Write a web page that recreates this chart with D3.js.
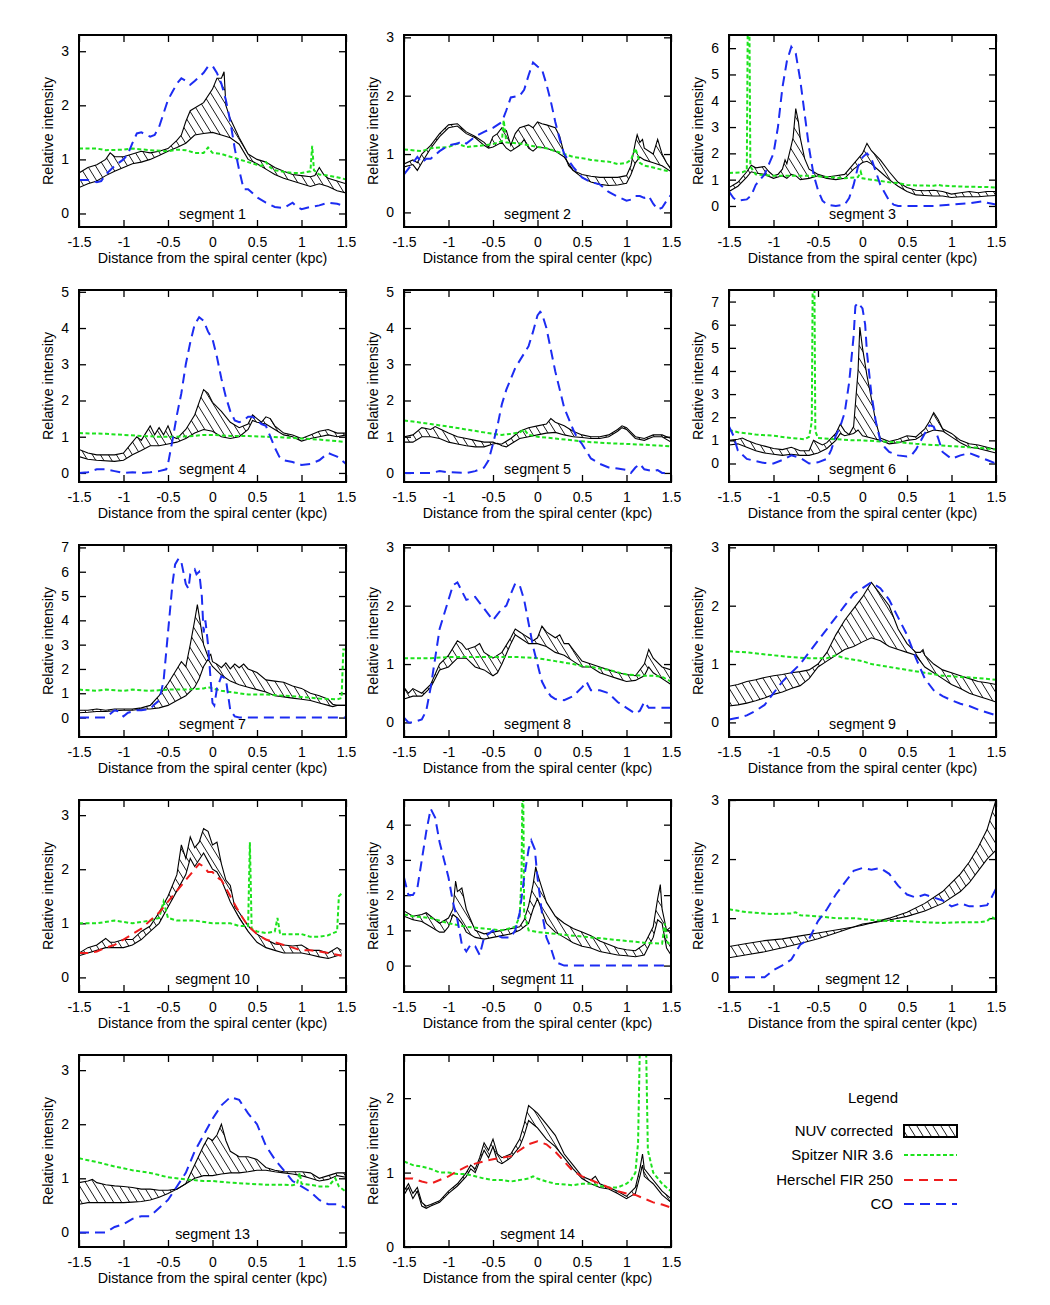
<!DOCTYPE html>
<html>
<head>
<meta charset="utf-8">
<script src="https://cdn.jsdelivr.net/npm/d3@7"></script>
<style>
  body { margin: 0; background: #fff; }
  text { font-family: "Liberation Sans", Arial, Helvetica, sans-serif; fill: #000; }
</style>
</head>
<body>
<div id="chart"></div>
<script>
// ---- data ----
const xTicks = [-1.5, -1, -0.5, 0, 0.5, 1, 1.5];
const segNames = ["segment 1","segment 2","segment 3","segment 4","segment 5","segment 6","segment 7",
                  "segment 8","segment 9","segment 10","segment 11","segment 12","segment 13","segment 14"];
const yDomains = [[-0.25,3.3],[-0.25,3.04],[-0.8,6.5],[-0.25,5.05],[-0.25,5.05],[-0.8,7.5],[-0.8,7.1],
                  [-0.25,3.04],[-0.25,3.04],[-0.27,3.28],[-0.75,4.7],[-0.25,3.0],[-0.27,3.28],[0,2.58]];
const yTickSets = [[0,1,2,3],[0,1,2,3],[0,1,2,3,4,5,6],[0,1,2,3,4,5],[0,1,2,3,4,5],[0,1,2,3,4,5,6,7],
                   [0,1,2,3,4,5,6,7],[0,1,2,3],[0,1,2,3],[0,1,2,3],[0,1,2,3,4],[0,1,2,3],[0,1,2,3],[0,1,2]];
const legendLabels = ["NUV corrected", "Spitzer NIR 3.6", "Herschel FIR 250", "CO"];

// segment 1
const seg1Hi = [[-1.5,0.75],[-1.4,0.85],[-1.3,0.9],[-1.2,1.0],[-1.15,1.12],[-1.1,1.05],[-1.0,1.05],[-0.9,1.1],[-0.8,1.15],[-0.7,1.12],[-0.6,1.15],[-0.5,1.2],[-0.4,1.35],[-0.35,1.45],[-0.3,1.7],[-0.25,1.9],[-0.2,1.95],[-0.1,2.05],[0,2.3],[0.05,2.5],[0.1,2.5],[0.13,2.62],[0.15,2.0],[0.2,1.75],[0.3,1.4],[0.4,1.1],[0.5,1.0],[0.6,0.95],[0.7,0.85],[0.8,0.78],[0.9,0.72],[1.0,0.7],[1.1,0.68],[1.15,0.7],[1.2,0.85],[1.25,0.72],[1.3,0.65],[1.4,0.6],[1.5,0.55]];
const seg1Lo = [[-1.5,0.48],[-1.4,0.55],[-1.3,0.6],[-1.2,0.7],[-1.1,0.78],[-1.0,0.85],[-0.9,0.92],[-0.8,0.95],[-0.7,1.0],[-0.6,1.07],[-0.5,1.15],[-0.4,1.22],[-0.3,1.3],[-0.2,1.45],[-0.1,1.48],[0,1.5],[0.1,1.45],[0.2,1.4],[0.3,1.28],[0.4,1.0],[0.5,0.92],[0.6,0.82],[0.7,0.72],[0.8,0.65],[0.9,0.6],[1.0,0.55],[1.1,0.5],[1.2,0.55],[1.3,0.5],[1.4,0.42],[1.5,0.38]];
const seg1Nir = [[-1.5,1.2],[-1.3,1.2],[-1.2,1.17],[-1.0,1.18],[-0.9,1.2],[-0.7,1.17],[-0.5,1.15],[-0.4,1.18],[-0.3,1.17],[-0.2,1.12],[-0.1,1.12],[-0.05,1.22],[0,1.12],[0.1,1.1],[0.2,1.05],[0.3,1.0],[0.4,0.95],[0.5,0.9],[0.55,0.88],[0.6,0.95],[0.65,0.85],[0.7,0.8],[0.8,0.77],[0.9,0.75],[1.0,0.75],[1.1,0.78],[1.12,1.25],[1.14,0.8],[1.2,0.72],[1.3,0.7],[1.4,0.67],[1.5,0.63]];
const seg1Co = [[-1.5,0.62],[-1.4,0.62],[-1.3,0.58],[-1.25,0.6],[-1.2,0.72],[-1.1,0.88],[-1.0,1.0],[-0.95,1.1],[-0.9,1.3],[-0.85,1.48],[-0.8,1.5],[-0.7,1.42],[-0.65,1.45],[-0.6,1.6],[-0.55,1.85],[-0.5,2.1],[-0.45,2.25],[-0.4,2.4],[-0.35,2.5],[-0.3,2.45],[-0.25,2.38],[-0.2,2.45],[-0.1,2.6],[-0.05,2.72],[0,2.73],[0.05,2.6],[0.1,2.4],[0.15,2.1],[0.2,1.7],[0.25,1.2],[0.3,0.8],[0.35,0.45],[0.4,0.45],[0.5,0.3],[0.6,0.2],[0.7,0.12],[0.8,0.1],[0.9,0.2],[0.95,0.12],[1.0,0.08],[1.1,0.12],[1.2,0.15],[1.3,0.2],[1.4,0.18],[1.5,0.13]];

// segment 2
const seg2Hi = [[-1.5,0.83],[-1.4,0.9],[-1.35,0.85],[-1.3,1.0],[-1.2,1.15],[-1.1,1.35],[-1.0,1.5],[-0.9,1.52],[-0.85,1.45],[-0.8,1.38],[-0.7,1.3],[-0.6,1.2],[-0.55,1.12],[-0.5,1.3],[-0.45,1.35],[-0.4,1.45],[-0.35,1.4],[-0.3,1.15],[-0.25,1.35],[-0.2,1.45],[-0.1,1.5],[-0.05,1.45],[0,1.55],[0.05,1.52],[0.1,1.5],[0.2,1.45],[0.25,1.3],[0.3,1.0],[0.35,0.8],[0.4,0.72],[0.5,0.65],[0.6,0.62],[0.7,0.6],[0.8,0.6],[0.9,0.6],[1.0,0.63],[1.05,0.8],[1.1,1.2],[1.12,1.33],[1.15,1.2],[1.18,1.25],[1.2,1.1],[1.3,1.0],[1.35,1.25],[1.4,1.0],[1.45,0.85],[1.5,0.75]];
const seg2Lo = [[-1.5,0.78],[-1.4,0.82],[-1.35,0.72],[-1.3,0.85],[-1.2,1.1],[-1.1,1.3],[-1.0,1.45],[-0.9,1.48],[-0.8,1.35],[-0.7,1.28],[-0.6,1.15],[-0.55,1.1],[-0.5,1.12],[-0.4,1.2],[-0.35,1.1],[-0.3,1.05],[-0.2,1.15],[-0.15,1.25],[-0.1,1.1],[-0.05,1.05],[0,1.12],[0.1,1.1],[0.2,1.05],[0.3,0.95],[0.4,0.72],[0.5,0.6],[0.6,0.52],[0.7,0.48],[0.8,0.46],[0.9,0.47],[1.0,0.5],[1.05,0.65],[1.1,0.85],[1.15,0.95],[1.2,0.9],[1.3,0.85],[1.4,0.8],[1.5,0.7]];
const seg2Nir = [[-1.5,1.08],[-1.3,1.05],[-1.2,1.1],[-1.0,1.12],[-0.9,1.18],[-0.8,1.12],[-0.6,1.15],[-0.5,1.17],[-0.4,1.22],[-0.38,1.58],[-0.35,1.2],[-0.2,1.18],[-0.1,1.15],[0,1.12],[0.1,1.1],[0.2,1.05],[0.3,1.0],[0.4,0.95],[0.5,0.93],[0.6,0.9],[0.7,0.88],[0.8,0.87],[0.9,0.83],[1.0,0.85],[1.05,0.9],[1.1,1.1],[1.15,0.85],[1.2,0.8],[1.3,0.77],[1.4,0.73],[1.5,0.7]];
const seg2Co = [[-1.5,0.65],[-1.4,0.85],[-1.35,0.95],[-1.3,0.85],[-1.25,0.92],[-1.2,0.92],[-1.1,1.05],[-1.0,1.15],[-0.9,1.18],[-0.85,1.22],[-0.8,1.18],[-0.7,1.3],[-0.6,1.38],[-0.5,1.45],[-0.4,1.55],[-0.35,1.75],[-0.3,1.97],[-0.2,2.0],[-0.15,2.1],[-0.1,2.35],[-0.05,2.57],[0,2.5],[0.05,2.45],[0.1,2.2],[0.15,1.9],[0.2,1.55],[0.25,1.25],[0.3,1.0],[0.4,0.78],[0.5,0.6],[0.6,0.52],[0.7,0.48],[0.8,0.35],[0.9,0.27],[1.0,0.2],[1.05,0.22],[1.1,0.28],[1.15,0.28],[1.2,0.25],[1.25,0.28],[1.3,0.15],[1.35,0.05],[1.4,0.08],[1.45,0.2],[1.5,0.3]];

// segment 3
const seg3Hi = [[-1.5,0.7],[-1.4,0.9],[-1.3,1.3],[-1.25,1.55],[-1.2,1.45],[-1.1,1.5],[-1.05,1.3],[-1.0,1.15],[-0.95,1.2],[-0.9,1.4],[-0.87,1.75],[-0.85,1.6],[-0.8,2.3],[-0.78,2.6],[-0.75,3.7],[-0.72,3.2],[-0.7,2.6],[-0.65,1.8],[-0.6,1.4],[-0.55,1.3],[-0.5,1.2],[-0.4,1.1],[-0.3,1.15],[-0.2,1.2],[-0.1,1.6],[-0.05,1.8],[0,2.0],[0.05,2.38],[0.1,2.1],[0.2,1.75],[0.3,1.3],[0.4,0.9],[0.5,0.7],[0.6,0.6],[0.7,0.58],[0.8,0.6],[0.9,0.55],[1.0,0.45],[1.1,0.5],[1.2,0.55],[1.3,0.5],[1.4,0.55],[1.5,0.55]];
const seg3Lo = [[-1.5,0.55],[-1.4,0.75],[-1.3,1.1],[-1.25,1.3],[-1.2,1.25],[-1.1,1.2],[-1.0,1.05],[-0.95,1.1],[-0.9,1.15],[-0.85,1.05],[-0.8,1.2],[-0.75,1.15],[-0.7,1.0],[-0.6,1.05],[-0.5,1.15],[-0.4,1.05],[-0.3,1.0],[-0.2,1.05],[-0.1,1.4],[0,1.65],[0.05,1.7],[0.1,1.6],[0.2,1.3],[0.3,1.0],[0.4,0.75],[0.5,0.55],[0.6,0.42],[0.7,0.4],[0.8,0.38],[0.9,0.38],[1.0,0.32],[1.1,0.35],[1.2,0.35],[1.3,0.35],[1.4,0.38],[1.5,0.4]];
const seg3Nir = [[-1.5,1.25],[-1.35,1.28],[-1.3,1.35],[-1.29,6.6],[-1.27,6.6],[-1.26,1.5],[-1.2,1.2],[-1.0,1.15],[-0.8,1.15],[-0.6,1.15],[-0.4,1.1],[-0.2,1.05],[-0.05,1.1],[-0.02,1.3],[0,1.05],[0.1,1.0],[0.2,0.95],[0.3,0.9],[0.4,0.87],[0.5,0.8],[0.6,0.78],[0.8,0.77],[0.85,0.8],[0.9,0.77],[1.0,0.75],[1.2,0.73],[1.4,0.72],[1.5,0.7]];
const seg3Co = [[-1.5,0.55],[-1.45,0.3],[-1.4,0.2],[-1.3,0.25],[-1.25,0.4],[-1.2,0.8],[-1.1,1.2],[-1.05,1.6],[-1.0,2.0],[-0.95,3.0],[-0.9,4.5],[-0.85,5.5],[-0.8,6.05],[-0.75,5.8],[-0.7,4.8],[-0.65,3.5],[-0.6,2.2],[-0.55,1.2],[-0.5,0.6],[-0.45,0.2],[-0.4,0.05],[-0.3,0.0],[-0.2,0.05],[-0.15,0.3],[-0.1,0.8],[-0.05,1.5],[0,1.85],[0.05,2.0],[0.1,1.8],[0.15,1.3],[0.2,0.8],[0.3,0.2],[0.35,0.05],[0.4,0.0],[0.6,0.0],[0.8,0.0],[1.0,0.05],[1.2,0.1],[1.35,0.18],[1.4,0.12],[1.5,0.05]];

// segment 4
const seg4Hi = [[-1.5,0.65],[-1.4,0.55],[-1.3,0.5],[-1.1,0.5],[-1.0,0.55],[-0.9,0.85],[-0.85,1.0],[-0.8,0.9],[-0.75,1.1],[-0.7,1.3],[-0.65,1.05],[-0.6,1.25],[-0.55,1.05],[-0.5,1.3],[-0.45,1.0],[-0.4,0.95],[-0.3,1.2],[-0.2,1.6],[-0.1,2.3],[-0.05,2.2],[0,1.95],[0.1,1.7],[0.2,1.4],[0.3,1.25],[0.4,1.35],[0.45,1.6],[0.5,1.5],[0.55,1.4],[0.6,1.55],[0.65,1.5],[0.7,1.3],[0.8,1.1],[0.9,1.05],[1.0,0.95],[1.1,1.05],[1.2,1.15],[1.3,1.2],[1.4,1.1],[1.5,1.1]];
const seg4Lo = [[-1.5,0.45],[-1.4,0.38],[-1.3,0.35],[-1.1,0.32],[-1.0,0.35],[-0.9,0.5],[-0.8,0.62],[-0.7,0.75],[-0.6,0.75],[-0.5,0.8],[-0.4,0.85],[-0.3,0.95],[-0.2,1.1],[-0.1,1.2],[0,1.15],[0.1,1.0],[0.2,0.95],[0.3,1.0],[0.4,1.2],[0.45,1.45],[0.5,1.4],[0.6,1.35],[0.7,1.2],[0.8,1.05],[0.9,1.0],[1.0,0.88],[1.1,0.95],[1.2,1.0],[1.3,1.05],[1.4,1.0],[1.5,1.05]];
const seg4Nir = [[-1.5,1.1],[-1.2,1.08],[-1.0,1.05],[-0.8,1.02],[-0.6,1.0],[-0.4,1.0],[-0.2,1.02],[-0.1,1.05],[0,1.05],[0.2,1.02],[0.4,1.02],[0.6,1.0],[0.8,0.98],[1.0,0.95],[1.2,0.92],[1.4,0.88],[1.5,0.85]];
const seg4Co = [[-1.5,0.0],[-1.4,0.02],[-1.3,0.1],[-1.2,0.1],[-1.1,0.05],[-1.0,0.0],[-0.9,0.02],[-0.8,0.0],[-0.7,0.02],[-0.6,0.05],[-0.52,0.1],[-0.5,0.25],[-0.45,0.9],[-0.4,1.6],[-0.35,2.2],[-0.3,3.0],[-0.25,3.6],[-0.2,4.1],[-0.15,4.3],[-0.1,4.2],[-0.05,3.9],[0,3.7],[0.05,3.2],[0.1,2.6],[0.15,2.1],[0.2,1.7],[0.25,1.45],[0.3,1.4],[0.35,1.45],[0.4,1.55],[0.45,1.55],[0.5,1.45],[0.55,1.35],[0.6,1.3],[0.65,1.0],[0.7,0.7],[0.75,0.45],[0.8,0.35],[0.9,0.3],[1.0,0.22],[1.1,0.25],[1.2,0.35],[1.3,0.55],[1.35,0.5],[1.4,0.45],[1.5,0.25]];

// segment 5
const seg5Hi = [[-1.5,1.0],[-1.4,1.05],[-1.3,1.25],[-1.2,1.2],[-1.15,1.28],[-1.1,1.22],[-1.0,1.1],[-0.9,1.0],[-0.8,0.95],[-0.7,0.9],[-0.6,0.85],[-0.5,0.85],[-0.45,0.8],[-0.4,0.8],[-0.3,0.95],[-0.2,1.15],[-0.1,1.25],[0,1.3],[0.1,1.35],[0.15,1.5],[0.2,1.4],[0.3,1.3],[0.4,1.15],[0.5,1.05],[0.6,1.0],[0.7,1.0],[0.8,1.05],[0.9,1.2],[0.95,1.3],[1.0,1.25],[1.1,1.0],[1.2,0.95],[1.3,1.05],[1.4,1.05],[1.5,0.95]];
const seg5Lo = [[-1.5,0.85],[-1.4,0.85],[-1.3,1.0],[-1.2,1.0],[-1.1,0.95],[-1.0,0.85],[-0.9,0.8],[-0.8,0.75],[-0.7,0.72],[-0.6,0.72],[-0.5,0.8],[-0.45,0.82],[-0.4,0.75],[-0.35,0.72],[-0.3,0.8],[-0.2,0.95],[-0.1,1.0],[0,1.05],[0.1,1.1],[0.2,1.12],[0.3,1.05],[0.4,1.0],[0.5,0.98],[0.6,0.95],[0.7,0.95],[0.8,1.0],[0.9,1.15],[0.95,1.25],[1.0,1.2],[1.1,0.95],[1.2,0.9],[1.3,1.0],[1.4,1.0],[1.5,0.85]];
const seg5Nir = [[-1.5,1.45],[-1.4,1.42],[-1.2,1.35],[-1.0,1.28],[-0.8,1.2],[-0.6,1.12],[-0.5,1.08],[-0.4,1.05],[-0.3,1.08],[-0.2,1.12],[-0.15,1.2],[-0.1,1.05],[0,1.0],[0.2,0.95],[0.4,0.9],[0.6,0.85],[0.8,0.82],[1.0,0.8],[1.2,0.78],[1.4,0.75],[1.5,0.73]];
const seg5Co = [[-1.5,0.0],[-1.2,0.0],[-1.1,0.05],[-1.0,0.02],[-0.8,0.0],[-0.7,0.05],[-0.6,0.15],[-0.55,0.35],[-0.5,0.8],[-0.45,1.3],[-0.4,1.9],[-0.35,2.3],[-0.3,2.6],[-0.25,2.9],[-0.2,3.1],[-0.15,3.3],[-0.1,3.5],[-0.05,3.9],[0,4.35],[0.03,4.45],[0.05,4.4],[0.1,4.0],[0.15,3.4],[0.2,2.8],[0.25,2.3],[0.3,1.8],[0.35,1.5],[0.4,1.2],[0.45,0.95],[0.5,0.8],[0.55,0.6],[0.6,0.4],[0.7,0.25],[0.8,0.15],[0.9,0.12],[1.0,0.08],[1.05,0.0],[1.1,0.15],[1.15,0.25],[1.2,0.1],[1.3,0.05],[1.35,0.08],[1.4,0.0],[1.5,0.0]];

// segment 6
const seg6Hi = [[-1.5,1.0],[-1.4,1.05],[-1.35,1.1],[-1.3,1.0],[-1.2,0.85],[-1.1,0.75],[-1.0,0.65],[-0.9,0.6],[-0.8,0.7],[-0.7,0.55],[-0.6,0.55],[-0.55,1.0],[-0.5,0.9],[-0.45,0.8],[-0.4,0.9],[-0.3,1.3],[-0.25,1.7],[-0.2,1.4],[-0.15,1.25],[-0.1,1.6],[-0.05,4.0],[-0.03,5.9],[0,5.0],[0.05,3.8],[0.1,2.8],[0.15,1.8],[0.2,1.1],[0.3,0.95],[0.4,1.05],[0.5,1.2],[0.6,1.15],[0.7,1.5],[0.75,1.8],[0.8,2.2],[0.85,1.9],[0.9,1.5],[1.0,1.3],[1.1,1.0],[1.2,0.85],[1.3,0.8],[1.4,0.7],[1.5,0.6]];
const seg6Lo = [[-1.5,0.8],[-1.4,0.85],[-1.3,0.7],[-1.2,0.55],[-1.1,0.45],[-1.0,0.4],[-0.9,0.35],[-0.8,0.4],[-0.7,0.35],[-0.6,0.35],[-0.5,0.45],[-0.4,0.65],[-0.3,1.0],[-0.25,1.3],[-0.2,1.2],[-0.1,1.3],[-0.05,1.45],[0,1.2],[0.1,1.1],[0.2,1.0],[0.3,0.85],[0.4,0.9],[0.5,1.0],[0.6,1.05],[0.7,1.3],[0.8,1.45],[0.9,1.4],[1.0,1.15],[1.1,0.9],[1.2,0.7],[1.3,0.65],[1.4,0.55],[1.5,0.45]];
const seg6Nir = [[-1.5,1.45],[-1.4,1.35],[-1.2,1.25],[-1.0,1.2],[-0.8,1.1],[-0.65,1.05],[-0.6,1.15],[-0.57,1.8],[-0.56,7.6],[-0.54,7.6],[-0.53,1.4],[-0.5,1.1],[-0.3,1.05],[-0.1,1.0],[0,1.0],[0.2,0.95],[0.4,0.92],[0.6,0.85],[0.8,0.8],[1.0,0.75],[1.2,0.7],[1.4,0.65],[1.5,0.6]];
const seg6Co = [[-1.5,1.6],[-1.45,1.2],[-1.4,0.55],[-1.3,0.2],[-1.2,0.1],[-1.1,0.02],[-1.0,0.0],[-0.9,0.15],[-0.8,0.35],[-0.7,0.25],[-0.6,0.0],[-0.5,0.05],[-0.4,0.2],[-0.35,0.6],[-0.3,1.2],[-0.25,1.6],[-0.2,2.2],[-0.15,3.5],[-0.1,5.5],[-0.08,6.8],[-0.05,6.95],[0,6.7],[0.03,6.0],[0.05,4.8],[0.1,3.0],[0.15,1.8],[0.2,1.0],[0.25,0.7],[0.3,0.5],[0.4,0.35],[0.5,0.3],[0.55,0.35],[0.6,0.6],[0.7,1.3],[0.75,1.65],[0.8,1.6],[0.85,1.1],[0.9,0.5],[1.0,0.2],[1.1,0.35],[1.2,0.45],[1.3,0.3],[1.4,0.15],[1.5,0.0]];

// segment 7
const seg7Hi = [[-1.5,0.3],[-1.4,0.3],[-1.3,0.35],[-1.2,0.3],[-1.1,0.35],[-1.0,0.35],[-0.9,0.35],[-0.8,0.4],[-0.7,0.5],[-0.6,0.9],[-0.5,1.4],[-0.45,1.7],[-0.4,2.0],[-0.35,2.3],[-0.3,2.1],[-0.25,3.0],[-0.2,4.0],[-0.17,4.65],[-0.12,3.5],[-0.1,3.0],[-0.05,2.5],[-0.02,2.6],[0,2.3],[0.05,2.2],[0.1,2.05],[0.15,2.25],[0.2,2.0],[0.25,2.2],[0.3,2.05],[0.35,2.2],[0.4,2.0],[0.5,1.85],[0.6,1.55],[0.7,1.5],[0.8,1.45],[0.9,1.3],[1.0,1.2],[1.1,1.0],[1.2,0.9],[1.3,0.75],[1.35,0.55],[1.4,0.5],[1.5,0.5]];
const seg7Lo = [[-1.5,0.2],[-1.4,0.22],[-1.3,0.25],[-1.2,0.25],[-1.1,0.28],[-1.0,0.3],[-0.9,0.3],[-0.8,0.35],[-0.7,0.35],[-0.6,0.4],[-0.5,0.5],[-0.4,0.7],[-0.3,0.9],[-0.2,1.25],[-0.15,1.6],[-0.1,2.1],[-0.05,2.4],[0,2.1],[0.1,1.75],[0.2,1.5],[0.3,1.35],[0.4,1.25],[0.5,1.15],[0.6,1.05],[0.7,0.9],[0.8,0.85],[0.9,0.8],[1.0,0.75],[1.1,0.7],[1.2,0.6],[1.3,0.5],[1.35,0.45],[1.4,0.5],[1.5,0.5]];
const seg7Nir = [[-1.5,1.15],[-1.3,1.1],[-1.2,1.15],[-1.0,1.1],[-0.9,1.15],[-0.7,1.1],[-0.5,1.15],[-0.3,1.15],[-0.1,1.2],[-0.05,1.25],[0,1.2],[0.1,1.1],[0.2,1.05],[0.4,0.95],[0.6,0.95],[0.8,0.9],[1.0,0.85],[1.2,0.78],[1.4,0.75],[1.45,0.8],[1.47,2.8],[1.5,2.8]];
const seg7Co = [[-1.5,0.0],[-1.2,0.0],[-1.15,0.15],[-1.1,0.3],[-1.05,0.25],[-1.0,0.05],[-0.95,0.2],[-0.9,0.25],[-0.85,0.3],[-0.8,0.3],[-0.7,0.35],[-0.65,0.55],[-0.6,0.7],[-0.55,1.5],[-0.5,3.5],[-0.45,5.5],[-0.42,6.3],[-0.38,6.55],[-0.35,6.4],[-0.3,5.5],[-0.27,5.3],[-0.25,5.9],[-0.2,6.1],[-0.18,5.9],[-0.15,6.0],[-0.12,5.0],[-0.1,3.5],[-0.08,4.0],[-0.05,3.0],[-0.02,1.5],[0,0.6],[0.02,0.5],[0.05,1.2],[0.08,1.5],[0.1,1.7],[0.15,1.6],[0.18,0.8],[0.2,0.3],[0.25,0.05],[0.3,0.0],[1.5,0.0]];

// segment 8
const seg8Hi = [[-1.5,0.6],[-1.45,0.5],[-1.4,0.58],[-1.3,0.5],[-1.2,0.65],[-1.1,1.0],[-1.0,1.15],[-0.9,1.4],[-0.85,1.35],[-0.8,1.25],[-0.7,1.3],[-0.65,1.35],[-0.6,1.2],[-0.5,1.1],[-0.4,1.2],[-0.3,1.45],[-0.25,1.6],[-0.2,1.55],[-0.15,1.5],[-0.1,1.45],[-0.05,1.4],[0,1.45],[0.05,1.65],[0.1,1.55],[0.2,1.45],[0.25,1.5],[0.3,1.35],[0.35,1.35],[0.4,1.25],[0.5,1.05],[0.6,1.0],[0.7,0.95],[0.8,0.9],[0.9,0.85],[1.0,0.82],[1.1,0.8],[1.2,1.0],[1.25,1.25],[1.3,1.1],[1.4,0.95],[1.5,0.9]];
const seg8Lo = [[-1.5,0.4],[-1.4,0.45],[-1.3,0.45],[-1.2,0.6],[-1.1,0.9],[-1.0,0.95],[-0.9,1.1],[-0.8,1.1],[-0.7,0.95],[-0.6,0.9],[-0.5,0.8],[-0.45,0.85],[-0.4,1.0],[-0.3,1.35],[-0.25,1.5],[-0.2,1.45],[-0.1,1.35],[0,1.35],[0.1,1.3],[0.2,1.2],[0.3,1.15],[0.4,1.05],[0.5,0.95],[0.6,0.95],[0.7,0.85],[0.8,0.8],[0.9,0.75],[1.0,0.7],[1.1,0.72],[1.2,0.8],[1.25,0.95],[1.3,0.85],[1.4,0.75],[1.5,0.65]];
const seg8Nir = [[-1.5,1.1],[-1.2,1.1],[-1.0,1.12],[-0.8,1.12],[-0.6,1.12],[-0.4,1.12],[-0.2,1.12],[0,1.1],[0.2,1.05],[0.4,1.0],[0.5,0.97],[0.6,0.95],[0.8,0.9],[1.0,0.82],[1.2,0.8],[1.3,0.8],[1.4,0.78],[1.5,0.7]];
const seg8Co = [[-1.5,0.08],[-1.45,0.0],[-1.4,0.0],[-1.3,0.05],[-1.25,0.2],[-1.2,0.6],[-1.15,1.1],[-1.1,1.6],[-1.0,2.1],[-0.95,2.35],[-0.9,2.4],[-0.85,2.25],[-0.8,2.1],[-0.7,2.15],[-0.65,2.05],[-0.6,1.95],[-0.5,1.75],[-0.45,1.85],[-0.4,1.95],[-0.35,2.0],[-0.3,2.2],[-0.25,2.38],[-0.2,2.35],[-0.15,2.1],[-0.1,1.7],[-0.05,1.3],[0,1.0],[0.05,0.7],[0.1,0.55],[0.15,0.45],[0.2,0.4],[0.3,0.38],[0.4,0.45],[0.5,0.6],[0.55,0.7],[0.6,0.55],[0.7,0.55],[0.8,0.5],[0.9,0.35],[1.0,0.25],[1.1,0.15],[1.15,0.2],[1.2,0.35],[1.25,0.25],[1.3,0.25],[1.4,0.25],[1.5,0.25]];

// segment 9
const seg9Hi = [[-1.5,0.62],[-1.4,0.65],[-1.3,0.7],[-1.2,0.73],[-1.1,0.77],[-1.0,0.8],[-0.9,0.82],[-0.8,0.85],[-0.7,0.87],[-0.6,0.9],[-0.5,1.0],[-0.4,1.2],[-0.3,1.5],[-0.2,1.75],[-0.1,1.95],[0,2.15],[0.1,2.4],[0.2,2.2],[0.3,2.0],[0.4,1.6],[0.5,1.35],[0.6,1.2],[0.65,1.2],[0.68,1.25],[0.7,1.15],[0.8,1.0],[0.9,0.9],[1.0,0.85],[1.1,0.8],[1.2,0.75],[1.3,0.7],[1.4,0.68],[1.5,0.65]];
const seg9Lo = [[-1.5,0.28],[-1.4,0.3],[-1.3,0.33],[-1.2,0.37],[-1.1,0.42],[-1.0,0.48],[-0.9,0.52],[-0.8,0.58],[-0.7,0.63],[-0.6,0.75],[-0.5,0.95],[-0.4,1.05],[-0.3,1.15],[-0.2,1.25],[-0.1,1.3],[0,1.38],[0.1,1.45],[0.2,1.4],[0.3,1.3],[0.4,1.25],[0.5,1.2],[0.6,1.15],[0.65,1.05],[0.7,0.95],[0.8,0.85],[0.9,0.75],[1.0,0.65],[1.1,0.58],[1.2,0.5],[1.3,0.45],[1.4,0.4],[1.5,0.35]];
const seg9Nir = [[-1.5,1.22],[-1.3,1.2],[-1.0,1.15],[-0.8,1.12],[-0.6,1.1],[-0.4,1.1],[-0.3,1.15],[-0.2,1.1],[0,1.05],[0.1,1.0],[0.3,0.95],[0.5,0.9],[0.7,0.85],[0.9,0.8],[1.1,0.78],[1.3,0.76],[1.5,0.73]];
const seg9Co = [[-1.5,0.05],[-1.4,0.08],[-1.3,0.12],[-1.2,0.2],[-1.1,0.3],[-1.0,0.5],[-0.9,0.7],[-0.8,0.85],[-0.7,1.0],[-0.6,1.2],[-0.5,1.4],[-0.4,1.6],[-0.3,1.8],[-0.2,2.0],[-0.1,2.2],[0,2.3],[0.1,2.4],[0.2,2.3],[0.3,2.1],[0.4,1.8],[0.5,1.5],[0.6,1.1],[0.7,0.75],[0.8,0.55],[0.9,0.45],[1.0,0.38],[1.1,0.32],[1.2,0.28],[1.3,0.22],[1.4,0.17],[1.5,0.12]];

// segment 10 (FIR instead of CO)
const seg10Hi = [[-1.5,0.45],[-1.4,0.55],[-1.3,0.6],[-1.2,0.72],[-1.15,0.65],[-1.1,0.65],[-1.0,0.7],[-0.9,0.7],[-0.8,0.85],[-0.7,0.95],[-0.6,1.2],[-0.5,1.5],[-0.4,1.9],[-0.35,2.45],[-0.3,2.2],[-0.25,2.6],[-0.2,2.4],[-0.15,2.5],[-0.1,2.75],[-0.05,2.7],[0,2.45],[0.05,2.5],[0.1,2.1],[0.15,1.8],[0.2,1.7],[0.25,1.3],[0.3,1.2],[0.4,0.95],[0.5,0.8],[0.6,0.7],[0.7,0.62],[0.8,0.6],[0.9,0.58],[1.0,0.6],[1.1,0.5],[1.2,0.5],[1.3,0.45],[1.4,0.55],[1.45,0.5]];
const seg10Lo = [[-1.5,0.4],[-1.4,0.45],[-1.3,0.5],[-1.2,0.55],[-1.1,0.55],[-1.0,0.55],[-0.9,0.6],[-0.8,0.7],[-0.7,0.85],[-0.6,1.0],[-0.5,1.3],[-0.4,1.6],[-0.3,1.9],[-0.25,2.2],[-0.2,2.05],[-0.1,2.3],[-0.05,2.15],[0,2.0],[0.05,1.95],[0.1,1.8],[0.2,1.4],[0.3,1.1],[0.4,0.85],[0.5,0.65],[0.6,0.55],[0.7,0.5],[0.8,0.45],[0.9,0.45],[1.0,0.45],[1.1,0.42],[1.2,0.38],[1.3,0.35],[1.4,0.4],[1.45,0.42]];
const seg10Nir = [[-1.5,1.0],[-1.3,1.0],[-1.1,1.05],[-0.9,1.0],[-0.7,1.05],[-0.6,1.1],[-0.55,1.4],[-0.5,1.1],[-0.4,1.05],[-0.2,1.05],[0,1.0],[0.2,1.0],[0.3,0.95],[0.4,0.95],[0.42,2.5],[0.44,0.9],[0.5,0.85],[0.6,0.82],[0.7,0.85],[0.73,1.1],[0.76,0.8],[0.9,0.8],[1.0,0.8],[1.1,0.75],[1.2,0.75],[1.3,0.78],[1.4,0.85],[1.42,1.5],[1.45,1.55]];
const seg10Fir = [[-1.5,0.45],[-1.4,0.45],[-1.3,0.48],[-1.2,0.55],[-1.1,0.6],[-1.0,0.7],[-0.9,0.8],[-0.8,0.9],[-0.7,1.05],[-0.6,1.2],[-0.5,1.4],[-0.4,1.6],[-0.3,1.8],[-0.2,2.0],[-0.15,2.1],[-0.1,2.05],[-0.05,1.95],[0,1.95],[0.05,1.85],[0.1,1.8],[0.2,1.5],[0.3,1.2],[0.4,0.95],[0.5,0.8],[0.6,0.7],[0.7,0.65],[0.8,0.6],[0.9,0.55],[1.0,0.5],[1.1,0.5],[1.2,0.48],[1.3,0.45],[1.4,0.42],[1.45,0.4]];

// segment 11
const seg11Hi = [[-1.5,1.55],[-1.4,1.4],[-1.3,1.45],[-1.25,1.5],[-1.2,1.4],[-1.1,1.2],[-1.0,1.35],[-0.95,1.6],[-0.92,2.4],[-0.9,2.1],[-0.85,2.2],[-0.8,1.6],[-0.7,1.0],[-0.6,0.9],[-0.5,0.95],[-0.4,1.0],[-0.3,1.05],[-0.2,1.1],[-0.15,1.3],[-0.1,1.7],[-0.05,2.3],[-0.02,2.8],[0,2.6],[0.05,2.2],[0.1,1.8],[0.2,1.4],[0.3,1.2],[0.4,1.05],[0.5,0.95],[0.6,0.85],[0.7,0.7],[0.8,0.6],[0.9,0.5],[1.0,0.45],[1.1,0.42],[1.2,0.6],[1.3,1.1],[1.35,1.9],[1.38,2.3],[1.4,1.6],[1.45,1.0],[1.5,1.1]];
const seg11Lo = [[-1.5,1.4],[-1.4,1.3],[-1.3,1.25],[-1.2,1.1],[-1.1,0.95],[-1.05,0.95],[-1.0,1.1],[-0.95,1.45],[-0.9,1.35],[-0.85,1.2],[-0.8,0.95],[-0.7,0.8],[-0.6,0.75],[-0.5,0.8],[-0.4,0.85],[-0.3,0.9],[-0.2,1.0],[-0.1,1.2],[-0.05,1.6],[0,1.9],[0.05,1.55],[0.1,1.2],[0.2,0.95],[0.3,0.8],[0.4,0.65],[0.5,0.55],[0.6,0.5],[0.7,0.4],[0.8,0.35],[0.9,0.3],[1.0,0.28],[1.1,0.25],[1.2,0.3],[1.3,0.8],[1.35,1.3],[1.4,1.2],[1.45,0.5],[1.5,0.3]];
const seg11Nir = [[-1.5,1.45],[-1.4,1.4],[-1.2,1.35],[-1.0,1.2],[-0.8,1.1],[-0.6,1.05],[-0.4,1.0],[-0.25,1.1],[-0.2,1.4],[-0.18,2.5],[-0.17,4.8],[-0.16,4.8],[-0.15,1.5],[-0.1,1.0],[0,0.95],[0.2,0.9],[0.4,0.85],[0.6,0.8],[0.8,0.75],[1.0,0.7],[1.2,0.65],[1.4,0.62],[1.43,1.2],[1.46,0.65],[1.5,0.6]];
const seg11Co = [[-1.5,2.5],[-1.45,2.0],[-1.4,2.0],[-1.35,2.2],[-1.3,3.0],[-1.25,3.8],[-1.2,4.45],[-1.15,4.2],[-1.1,3.5],[-1.05,3.0],[-1.0,2.5],[-0.95,1.8],[-0.9,1.3],[-0.85,0.6],[-0.8,0.4],[-0.75,0.6],[-0.7,0.55],[-0.65,0.3],[-0.6,0.8],[-0.5,1.0],[-0.45,0.85],[-0.4,0.8],[-0.3,0.8],[-0.25,1.0],[-0.2,1.5],[-0.15,2.5],[-0.1,3.3],[-0.07,3.55],[-0.03,3.3],[0,2.5],[0.05,1.5],[0.1,0.8],[0.15,0.5],[0.2,0.1],[0.3,0.0],[1.5,0.0]];

// segment 12
const seg12Hi = [[-1.5,0.52],[-1.3,0.57],[-1.1,0.62],[-0.9,0.65],[-0.7,0.7],[-0.5,0.75],[-0.3,0.8],[-0.1,0.85],[0,0.88],[0.1,0.92],[0.3,1.0],[0.5,1.1],[0.7,1.25],[0.9,1.45],[1.1,1.75],[1.2,1.95],[1.3,2.2],[1.4,2.5],[1.5,3.0]];
const seg12Lo = [[-1.5,0.33],[-1.3,0.38],[-1.1,0.43],[-0.9,0.5],[-0.7,0.57],[-0.5,0.65],[-0.3,0.75],[-0.1,0.85],[0,0.9],[0.1,0.92],[0.3,0.97],[0.5,1.03],[0.7,1.12],[0.9,1.25],[1.1,1.45],[1.2,1.6],[1.3,1.8],[1.4,2.0],[1.5,2.15]];
const seg12Nir = [[-1.5,1.15],[-1.3,1.1],[-1.0,1.07],[-0.8,1.08],[-0.75,1.1],[-0.7,1.05],[-0.5,1.03],[-0.3,1.0],[-0.1,1.0],[0.1,0.97],[0.3,0.95],[0.5,0.95],[0.7,0.93],[0.9,0.92],[1.1,0.93],[1.3,0.93],[1.4,0.95],[1.45,1.02],[1.5,0.98]];
const seg12Co = [[-1.5,0.0],[-1.3,0.0],[-1.1,0.0],[-1.0,0.12],[-0.9,0.2],[-0.8,0.3],[-0.7,0.55],[-0.6,0.65],[-0.5,0.95],[-0.4,1.15],[-0.3,1.4],[-0.2,1.6],[-0.1,1.8],[0,1.85],[0.1,1.82],[0.2,1.85],[0.3,1.75],[0.4,1.55],[0.5,1.4],[0.6,1.35],[0.7,1.4],[0.8,1.35],[0.9,1.3],[1.0,1.2],[1.1,1.25],[1.2,1.2],[1.3,1.2],[1.4,1.22],[1.45,1.35],[1.5,1.5]];

// segment 13
const seg13Hi = [[-1.5,0.92],[-1.4,0.95],[-1.35,0.98],[-1.3,0.92],[-1.2,0.88],[-1.1,0.86],[-1.0,0.85],[-0.9,0.83],[-0.8,0.8],[-0.7,0.8],[-0.6,0.78],[-0.5,0.78],[-0.4,0.8],[-0.3,0.9],[-0.2,1.25],[-0.1,1.6],[-0.05,1.75],[0,1.7],[0.05,1.8],[0.1,2.0],[0.15,1.7],[0.2,1.5],[0.3,1.4],[0.4,1.4],[0.5,1.35],[0.6,1.2],[0.7,1.15],[0.8,1.12],[0.9,1.12],[1.0,1.12],[1.1,1.1],[1.2,1.0],[1.3,1.05],[1.4,1.1],[1.5,1.1]];
const seg13Lo = [[-1.5,0.52],[-1.4,0.55],[-1.3,0.55],[-1.2,0.55],[-1.1,0.55],[-1.0,0.55],[-0.9,0.56],[-0.8,0.57],[-0.7,0.6],[-0.6,0.65],[-0.5,0.72],[-0.4,0.8],[-0.3,0.9],[-0.2,1.0],[-0.1,1.05],[0,1.05],[0.1,1.08],[0.2,1.1],[0.3,1.1],[0.4,1.12],[0.5,1.15],[0.6,1.15],[0.7,1.12],[0.8,1.1],[0.9,1.08],[1.0,1.05],[1.1,1.0],[1.2,0.95],[1.3,0.98],[1.4,1.05],[1.5,1.02]];
const seg13Nir = [[-1.5,1.37],[-1.3,1.3],[-1.1,1.22],[-0.9,1.15],[-0.7,1.1],[-0.5,1.02],[-0.3,0.98],[-0.1,0.95],[0,0.95],[0.2,0.92],[0.4,0.9],[0.6,0.88],[0.8,0.88],[0.9,0.87],[0.95,0.9],[0.98,1.1],[1.0,0.9],[1.1,0.88],[1.2,0.85],[1.3,0.85],[1.38,1.0],[1.42,0.85],[1.5,0.75]];
const seg13Co = [[-1.5,0.0],[-1.3,0.0],[-1.2,0.0],[-1.1,0.1],[-1.0,0.15],[-0.9,0.25],[-0.8,0.3],[-0.7,0.3],[-0.6,0.45],[-0.5,0.6],[-0.4,0.85],[-0.3,1.1],[-0.2,1.5],[-0.1,1.8],[0,2.1],[0.1,2.35],[0.2,2.5],[0.3,2.45],[0.4,2.2],[0.5,2.0],[0.6,1.6],[0.7,1.35],[0.8,1.15],[0.9,0.95],[1.0,0.85],[1.1,0.75],[1.2,0.6],[1.3,0.52],[1.4,0.52],[1.5,0.45]];

// segment 14 (FIR instead of CO)
const seg14Hi = [[-1.5,0.75],[-1.45,0.85],[-1.4,0.72],[-1.35,0.8],[-1.3,0.6],[-1.25,0.55],[-1.2,0.57],[-1.1,0.62],[-1.0,0.75],[-0.9,0.85],[-0.8,1.0],[-0.75,1.1],[-0.7,1.05],[-0.65,1.2],[-0.6,1.4],[-0.55,1.3],[-0.5,1.45],[-0.45,1.25],[-0.4,1.2],[-0.3,1.25],[-0.2,1.45],[-0.15,1.65],[-0.1,1.9],[-0.05,1.85],[0,1.8],[0.1,1.65],[0.2,1.5],[0.3,1.25],[0.4,1.1],[0.5,0.95],[0.6,0.9],[0.65,0.95],[0.7,0.85],[0.8,0.8],[0.9,0.75],[1.0,0.68],[1.1,0.8],[1.15,1.05],[1.18,1.25],[1.2,1.05],[1.3,0.9],[1.4,0.75],[1.5,0.65]];
const seg14Lo = [[-1.5,0.7],[-1.45,0.8],[-1.4,0.65],[-1.35,0.75],[-1.3,0.55],[-1.25,0.52],[-1.2,0.55],[-1.1,0.6],[-1.0,0.72],[-0.9,0.82],[-0.8,0.95],[-0.75,1.05],[-0.7,1.0],[-0.65,1.15],[-0.6,1.3],[-0.55,1.2],[-0.5,1.35],[-0.45,1.15],[-0.4,1.12],[-0.3,1.2],[-0.2,1.35],[-0.15,1.5],[-0.1,1.7],[-0.05,1.65],[0,1.6],[0.1,1.45],[0.2,1.35],[0.3,1.2],[0.4,1.05],[0.5,0.92],[0.6,0.85],[0.7,0.8],[0.8,0.78],[0.9,0.72],[1.0,0.65],[1.1,0.72],[1.15,0.95],[1.18,1.1],[1.2,0.95],[1.3,0.85],[1.4,0.7],[1.5,0.6]];
const seg14Nir = [[-1.5,1.15],[-1.4,1.1],[-1.3,1.08],[-1.2,1.05],[-1.1,1.0],[-1.0,1.0],[-0.9,0.98],[-0.8,0.98],[-0.7,0.95],[-0.6,0.92],[-0.5,0.9],[-0.4,0.9],[-0.3,0.88],[-0.2,0.9],[-0.1,0.92],[-0.05,0.95],[0,0.92],[0.1,0.88],[0.2,0.85],[0.4,0.83],[0.5,0.85],[0.6,0.85],[0.7,0.82],[0.8,0.8],[0.9,0.8],[1.0,0.85],[1.05,0.9],[1.1,1.0],[1.13,1.4],[1.15,2.7],[1.22,2.7],[1.24,1.3],[1.3,1.0],[1.4,0.85],[1.5,0.75]];
const seg14Fir = [[-1.5,0.92],[-1.4,0.92],[-1.3,0.88],[-1.2,0.85],[-1.1,0.9],[-1.0,0.95],[-0.9,1.02],[-0.8,1.08],[-0.7,1.12],[-0.6,1.15],[-0.5,1.18],[-0.4,1.2],[-0.3,1.22],[-0.2,1.3],[-0.1,1.38],[0,1.42],[0.1,1.38],[0.2,1.28],[0.3,1.15],[0.4,1.02],[0.5,0.95],[0.6,0.9],[0.7,0.85],[0.8,0.8],[0.9,0.75],[1.0,0.72],[1.1,0.7],[1.2,0.65],[1.3,0.6],[1.4,0.57],[1.5,0.53]];

const nuvHi  = [seg1Hi, seg2Hi, seg3Hi, seg4Hi, seg5Hi, seg6Hi, seg7Hi, seg8Hi, seg9Hi, seg10Hi, seg11Hi, seg12Hi, seg13Hi, seg14Hi];
const nuvLo  = [seg1Lo, seg2Lo, seg3Lo, seg4Lo, seg5Lo, seg6Lo, seg7Lo, seg8Lo, seg9Lo, seg10Lo, seg11Lo, seg12Lo, seg13Lo, seg14Lo];
const nirSet = [seg1Nir, seg2Nir, seg3Nir, seg4Nir, seg5Nir, seg6Nir, seg7Nir, seg8Nir, seg9Nir, seg10Nir, seg11Nir, seg12Nir, seg13Nir, seg14Nir];
const firSet = [null, null, null, null, null, null, null, null, null, seg10Fir, null, null, null, seg14Fir];
const coSet  = [seg1Co, seg2Co, seg3Co, seg4Co, seg5Co, seg6Co, seg7Co, seg8Co, seg9Co, null, seg11Co, seg12Co, seg13Co, null];

// ---- layout ----
const colLeft = [79, 404, 729];
const rowTop = [35, 290, 545, 800, 1055];
const W = 267, H = 192;
const green = "#1de21d", red = "#ee1c1c", blue = "#1c2cf2";
const fontFam = '"Liberation Sans", Arial, Helvetica, sans-serif';

const svg = d3.select('#chart').append('svg')
    .attr('width', 1050)
    .attr('height', 1305);

// hatch pattern for NUV band
const defs = svg.append('defs');
defs.append('pattern')
    .attr('id', 'hatch')
    .attr('patternUnits', 'userSpaceOnUse')
    .attr('width', 8)
    .attr('height', 13)
    .append('path')
    .attr('d', 'M0,0L8,13M-1,11.4L1,14.6M7,-1.6L9,1.6')
    .attr('stroke', '#000')
    .attr('stroke-width', 0.9);

const x = d3.scaleLinear().domain([-1.5, 1.5]).range([0, W]);
const fmt = d => String(d);

segNames.forEach(function (name, i) {
    const g = svg.append('g')
        .attr('transform', 'translate(' + colLeft[i % 3] + ',' + rowTop[Math.floor(i / 3)] + ')');
    const y = d3.scaleLinear().domain(yDomains[i]).range([H, 0]);

    defs.append('clipPath').attr('id', 'clip' + i)
        .append('rect').attr('width', W).attr('height', H);

    // axes, ticks inside, mirrored
    g.append('g').attr('transform', 'translate(0,' + H + ')')
        .call(d3.axisBottom(x).tickValues(xTicks).tickSize(-7).tickPadding(10).tickFormat(fmt));
    g.append('g').call(d3.axisTop(x).tickValues(xTicks).tickSize(-7).tickFormat(''));
    g.append('g')
        .call(d3.axisLeft(y).tickValues(yTickSets[i]).tickSize(-7).tickPadding(10).tickFormat(fmt));
    g.append('g').attr('transform', 'translate(' + W + ',0)')
        .call(d3.axisRight(y).tickValues(yTickSets[i]).tickSize(-7).tickFormat(''));
    g.selectAll('.domain').remove();
    g.selectAll('.tick line').attr('stroke', '#000').attr('stroke-width', 1.3);
    g.selectAll('.tick text').attr('font-size', 14).attr('font-family', fontFam).attr('fill', '#000');

    // axis titles
    g.append('text')
        .attr('x', W / 2).attr('y', H + 36)
        .attr('text-anchor', 'middle')
        .attr('font-size', 14.3)
        .text('Distance from the spiral center (kpc)');
    g.append('text')
        .attr('transform', 'translate(-31,' + (H / 2) + ') rotate(-90)')
        .attr('text-anchor', 'middle')
        .attr('dy', '0.35em')
        .attr('font-size', 14.3)
        .text('Relative intensity');

    const plot = g.append('g').attr('clip-path', 'url(#clip' + i + ')');
    const line = d3.line().x(d => x(d[0])).y(d => y(d[1]));

    // NUV band: upper + reversed lower, hatched
    const band = nuvHi[i].concat(nuvLo[i].slice().reverse());
    plot.append('path')
        .attr('d', line(band) + 'Z')
        .attr('fill', 'url(#hatch)')
        .attr('stroke', 'none');
    [nuvHi[i], nuvLo[i]].forEach(function (s) {
        plot.append('path').attr('d', line(s))
            .attr('fill', 'none').attr('stroke', '#000').attr('stroke-width', 1.1);
    });

    plot.append('path').attr('d', line(nirSet[i]))
        .attr('fill', 'none').attr('stroke', green).attr('stroke-width', 2)
        .attr('stroke-dasharray', '4,2.5');
    if (firSet[i]) {
        plot.append('path').attr('d', line(firSet[i]))
            .attr('fill', 'none').attr('stroke', red).attr('stroke-width', 2)
            .attr('stroke-dasharray', '9,6');
    }
    if (coSet[i]) {
        plot.append('path').attr('d', line(coSet[i]))
            .attr('fill', 'none').attr('stroke', blue).attr('stroke-width', 2)
            .attr('stroke-dasharray', '10,6');
    }

    // segment label
    g.append('text')
        .attr('x', W / 2).attr('y', H - 13)
        .attr('dy', '0.35em')
        .attr('text-anchor', 'middle')
        .attr('font-size', 14.3)
        .text(name);

    // frame
    g.append('rect')
        .attr('width', W).attr('height', H)
        .attr('fill', 'none').attr('stroke', '#000').attr('stroke-width', 2);
});

// ---- legend ----
const lg = svg.append('g');
lg.append('text').attr('x', 873).attr('y', 1098).attr('dy', '0.35em')
    .attr('text-anchor', 'middle').attr('font-size', 15).text('Legend');
const legY = [1131, 1155, 1180, 1204];
legendLabels.forEach(function (lab, k) {
    lg.append('text').attr('x', 893).attr('y', legY[k]).attr('dy', '0.35em')
        .attr('text-anchor', 'end').attr('font-size', 15).text(lab);
});
lg.append('rect').attr('x', 904).attr('y', legY[0] - 6).attr('width', 53).attr('height', 12)
    .attr('fill', 'url(#hatch)').attr('stroke', '#000').attr('stroke-width', 2);
const legStyles = [[green, '4,2.5'], [red, '9,6'], [blue, '10,6']];
legStyles.forEach(function (st, k) {
    lg.append('line').attr('x1', 904).attr('x2', 957)
        .attr('y1', legY[k + 1]).attr('y2', legY[k + 1])
        .attr('stroke', st[0]).attr('stroke-width', 2).attr('stroke-dasharray', st[1]);
});
</script>
</body>
</html>
